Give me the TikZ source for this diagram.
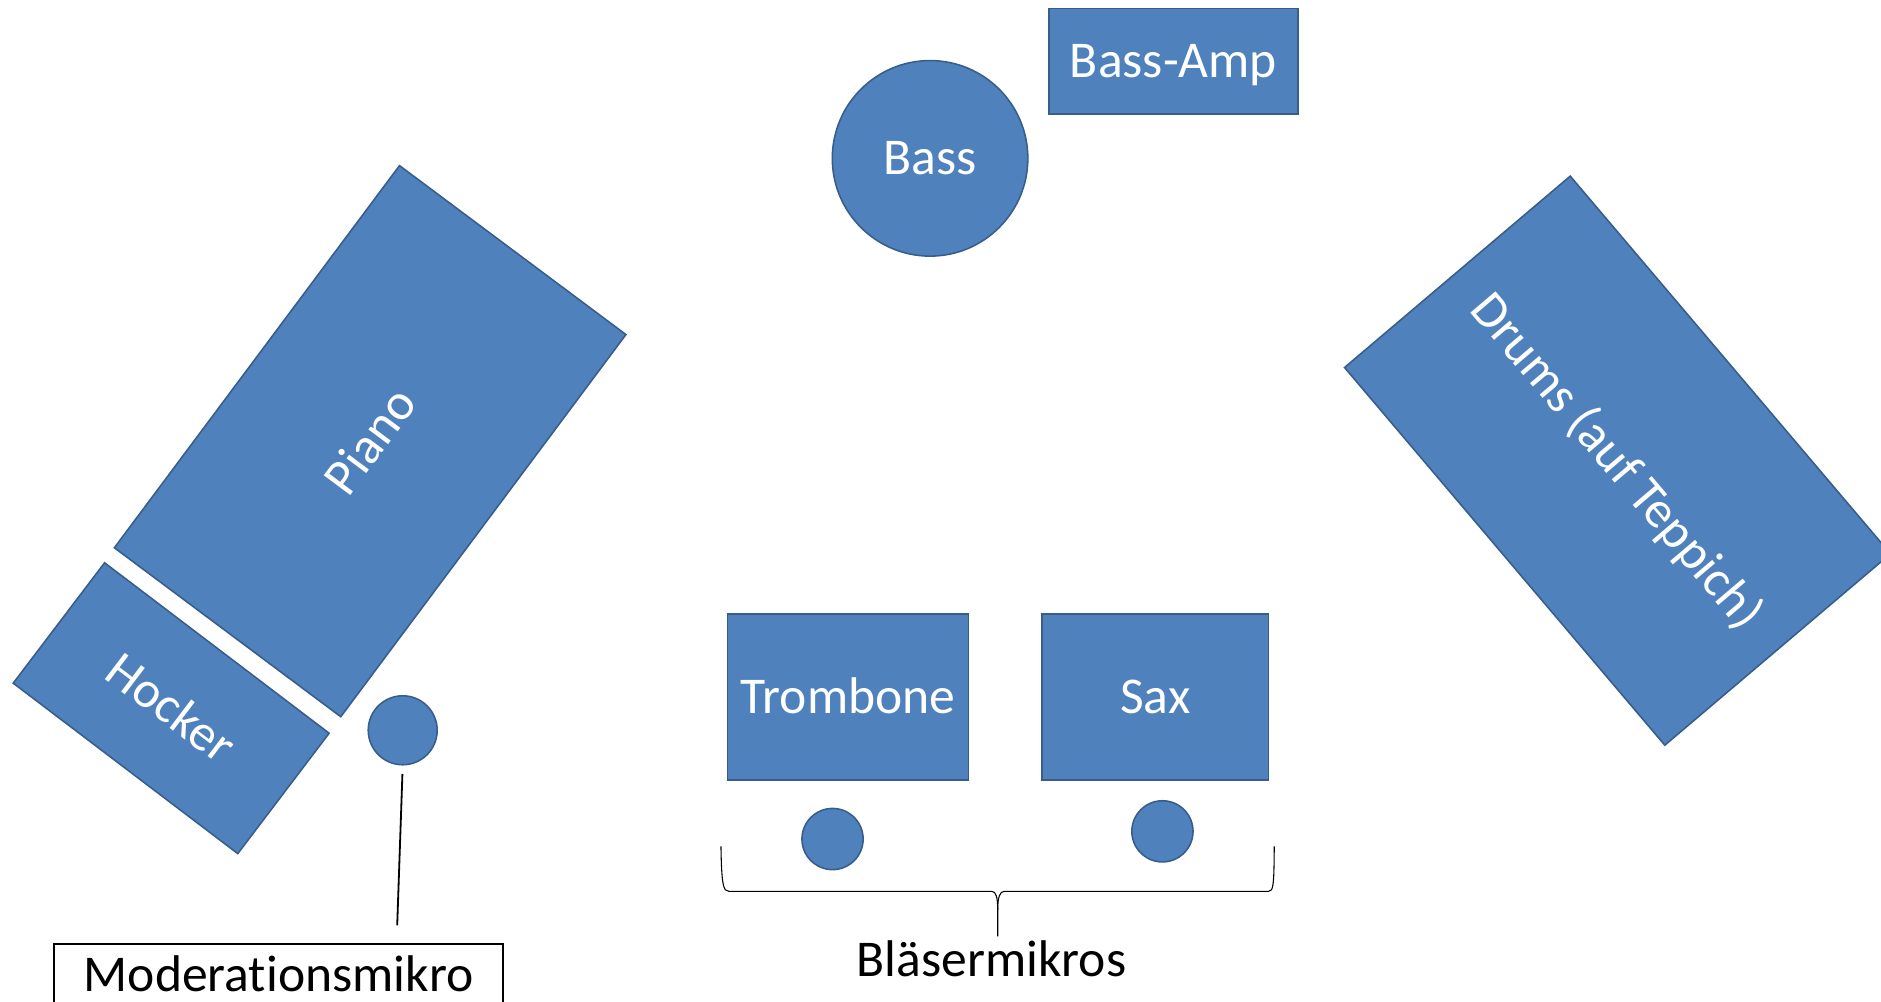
\documentclass[tikz,border=0pt]{standalone}
\usepackage{fontspec}
\setmainfont{Carlito}[Ligatures=NoCommon]
\begin{document}
\begin{tikzpicture}[x=1pt,y=-1pt,
  every node/.style={font=\fontsize{43}{52}\selectfont},
  bluebox/.style={draw=edgeblue, fill=fillblue, line width=1.3pt, text=white,
    inner sep=0pt, text height=27.5pt, text depth=0pt},
  micdot/.style={circle, draw=edgeblue, fill=fillblue, line width=1.3pt, inner sep=0pt, minimum size=51pt},
  labelbox/.style={draw=black, line width=1.6pt, inner sep=0pt},
  link/.style={draw=black, line width=1.5pt},
  bracestyle/.style={draw=black, line width=0.9pt}
]
\definecolor{fillblue}{HTML}{4F81BD}
\definecolor{edgeblue}{HTML}{385D8A}
\path[use as bounding box] (0,0) rectangle (1568,835);
\clip (0,0) rectangle (1568,835);

% Bass and amp
\node[bluebox, circle, minimum size=163pt] (bass) at (775.3,132) {Bass};
\node[bluebox, rectangle, minimum width=207.6pt, minimum height=88pt] (amp) at (978.2,51) {Bass-Amp};

% Piano and Hocker
\node[bluebox, rectangle, minimum width=397.5pt, minimum height=235.5pt, rotate=53.27] (piano) at (308.55,367.75) {Piano};
\node[bluebox, rectangle, minimum width=235pt, minimum height=126pt, rotate=-37.2] (hocker) at (142.7,590.35) {Hocker};

% Drums
\node[bluebox, rectangle, minimum width=412.8pt, minimum height=246.7pt, rotate=-49.7] (drums) at (1348.35,384) {Drums (auf Teppich)};

% Winds
\node[bluebox, rectangle, minimum width=201.2pt, minimum height=138.3pt] (trombone) at (706.9,580.9) {Trombone};
\node[bluebox, rectangle, minimum width=189.1pt, minimum height=138.3pt] (sax) at (963,580.9) {Sax};

% Microphones
\node[micdot, minimum size=57.5pt] (modmic) at (335.7,608.75) {};
\node[micdot] (trmic) at (694,699.4) {};
\node[micdot] (saxmic) at (969,693) {};

% Moderation label
\node[labelbox, anchor=base, minimum width=374.4pt, text height=39.5pt, text depth=30pt] (modbox) at (232.2,826.4) {Moderationsmikro};
\coordinate (modend) at (331.1,771.4);
\draw[link, shorten <=7pt] (modmic.south) -- (modend);

% Brace and label
\node[anchor=base, inner sep=0pt] (blaeser) at (826.5,813.9) {Bläsermikros};
\path[bracestyle] (601,705.6) .. controls (601.5,738) and (603,743) .. (607.5,743)
  -- (826.7,743) .. controls (830.2,743) and (831.7,748) .. (831.7,758.3) -- (831.7,780.6);
\path[bracestyle] (831.7,758.3) .. controls (831.7,748) and (833.4,743) .. (837.2,743)
  -- (1057.5,743) .. controls (1061.5,743) and (1062,738) .. (1062.2,705.6);
\end{tikzpicture}
\end{document}
